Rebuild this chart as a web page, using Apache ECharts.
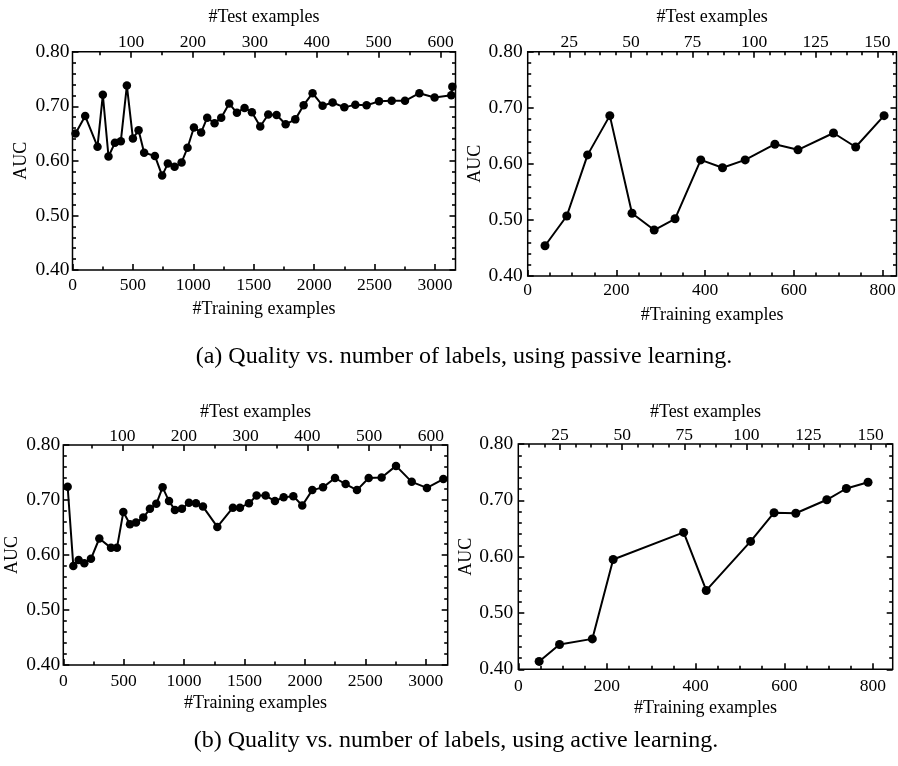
<!DOCTYPE html>
<html><head><meta charset="utf-8">
<script src="https://cdn.jsdelivr.net/npm/echarts@6/dist/echarts.min.js"></script>
<style>html,body{margin:0;padding:0;background:#fff}#c{width:898px;height:766px}</style>
</head><body><div id="c"></div>
<script>
// ---- tick values ----
const yMajor = [0.4, 0.5, 0.6, 0.7, 0.8];
const trainMajorLong = [0, 500, 1000, 1500, 2000, 2500, 3000];
const trainMinorLong = [250, 750, 1250, 1750, 2250, 2750];
const testMajorLong = [100, 200, 300, 400, 500, 600];
const testMinorLong = [50, 150, 250, 350, 450, 550];
const trainMajorShort = [0, 200, 400, 600, 800];
const trainMinorShort = [50, 100, 150, 250, 300, 350, 450, 500, 550, 650, 700, 750];
const testMajorShort = [25, 50, 75, 100, 125, 150];
const testMinorShort = [12.5, 18.75, 31.25, 37.5, 43.75, 56.25, 62.5, 68.75, 81.25, 87.5, 93.75,
  106.25, 112.5, 118.75, 131.25, 137.5, 143.75, 156.25];

// ---- data: (a) passive learning ----
const passiveTrainLeft = [25, 105, 207, 251, 298, 351, 400, 450, 500, 547, 593, 682, 742, 789, 845, 903, 952,
  1005, 1065, 1115, 1176, 1231, 1297, 1361, 1424, 1485, 1554, 1620, 1689, 1764, 1844, 1913, 1987, 2070, 2153,
  2250, 2341, 2434, 2537, 2642, 2752, 2871, 2997, 3135, 3144];
const passiveAucLeft = [0.650, 0.682, 0.626, 0.721, 0.608, 0.633, 0.636, 0.738, 0.641, 0.656, 0.615, 0.609,
  0.573, 0.595, 0.589, 0.597, 0.624, 0.661, 0.652, 0.679, 0.669, 0.679, 0.705, 0.688, 0.697, 0.689, 0.663,
  0.685, 0.684, 0.667, 0.676, 0.702, 0.724, 0.701, 0.707, 0.698, 0.703, 0.702, 0.709, 0.710, 0.710, 0.724,
  0.716, 0.720, 0.736];
const passiveTrainRight = [39, 88, 135, 185, 235, 285, 332, 390, 439, 490, 557, 609, 689, 739, 803];
const passiveAucRight = [0.454, 0.507, 0.616, 0.686, 0.512, 0.482, 0.502, 0.607, 0.593, 0.607, 0.635, 0.625,
  0.655, 0.630, 0.686];

// ---- data: (b) active learning ----
const activeTrainLeft = [36, 83, 127, 174, 229, 298, 395, 444, 497, 552, 602, 662, 717, 770, 822, 875, 924,
  982, 1040, 1098, 1156, 1275, 1404, 1462, 1537, 1600, 1675, 1752, 1824, 1904, 1978, 2061, 2150, 2249, 2337,
  2431, 2528, 2635, 2754, 2884, 3010, 3146];
const activeAucLeft = [0.724, 0.580, 0.591, 0.585, 0.593, 0.630, 0.613, 0.613, 0.678, 0.656, 0.659, 0.668,
  0.684, 0.693, 0.723, 0.698, 0.682, 0.684, 0.695, 0.694, 0.688, 0.651, 0.686, 0.686, 0.694, 0.708, 0.708,
  0.698, 0.705, 0.707, 0.690, 0.718, 0.723, 0.740, 0.729, 0.718, 0.740, 0.741, 0.762, 0.733, 0.722, 0.738];
const activeTrainRight = [47, 93, 167, 214, 373, 424, 524, 577, 626, 696, 740, 789];
const activeAucRight = [0.414, 0.444, 0.454, 0.595, 0.643, 0.540, 0.627, 0.678, 0.677, 0.701, 0.721, 0.732];

const captionA = '(a) Quality vs. number of labels, using passive learning.';
const captionB = '(b) Quality vs. number of labels, using active learning.';

const FONT = 'Liberation Serif';
const panels = [
  { rect: {left: 72.5, top: 51.7, width: 383, height: 218.3}, trainMax: 3170, testMin: 5.5, testMax: 624,
    trainMajor: trainMajorLong, trainMinor: trainMinorLong, testMajor: testMajorLong, testMinor: testMinorLong,
    x: passiveTrainLeft, y: passiveAucLeft, sym: 8.5,
    gaps: {top: 25, topLbl: 0, bot: 30, botLbl: 6, y: 42, yLbl: 3} },
  { rect: {left: 527.7, top: 51.7, width: 368.8, height: 224.3}, trainMax: 831, testMin: 8.1, testMax: 157.8,
    trainMajor: trainMajorShort, trainMinor: trainMinorShort, testMajor: testMajorShort, testMinor: testMinorShort,
    x: passiveTrainRight, y: passiveAucRight, sym: 9,
    gaps: {top: 25, topLbl: 0, bot: 30, botLbl: 5, y: 42, yLbl: 5} },
  { rect: {left: 63.3, top: 445, width: 384.4, height: 220}, trainMax: 3182, testMin: 4.4, testMax: 627.4,
    trainMajor: trainMajorLong, trainMinor: trainMinorLong, testMajor: testMajorLong, testMinor: testMinorLong,
    x: activeTrainLeft, y: activeAucLeft, sym: 8.5,
    gaps: {top: 24, topLbl: 0, bot: 29, botLbl: 7, y: 42.5, yLbl: 3} },
  { rect: {left: 518.3, top: 444, width: 374.4, height: 225.3}, trainMax: 844.6, testMin: 8.2, testMax: 158.9,
    trainMajor: trainMajorShort, trainMinor: trainMinorShort, testMajor: testMajorShort, testMinor: testMinorShort,
    x: activeTrainRight, y: activeAucRight, sym: 9,
    gaps: {top: 23, topLbl: 0, bot: 30, botLbl: 8, y: 41, yLbl: 5} }
];

const grid = [], xAxis = [], yAxis = [], series = [];
const lineStyle = {color: '#000', width: 1.6};
panels.forEach((p, i) => {
  const g = 2 * i;
  grid.push(Object.assign({show: true, borderColor: '#000', borderWidth: 1.5, backgroundColor: 'transparent',
    outerBoundsMode: 'none', containLabel: false}, p.rect));
  grid.push(Object.assign({show: false, outerBoundsMode: 'none', containLabel: false}, p.rect));
  const xBase = {type: 'value', axisLine: {show: false}, splitLine: {show: false}};
  xAxis.push(Object.assign({}, xBase, {gridIndex: g, position: 'bottom', min: 0, max: p.trainMax,
    name: '#Training examples', nameLocation: 'middle', nameGap: p.gaps.bot,
    nameTextStyle: {fontFamily: FONT, fontSize: 18, color: '#000'},
    axisTick: {show: true, inside: true, length: 6, lineStyle, customValues: p.trainMajor},
    axisLabel: {show: true, margin: p.gaps.botLbl, fontFamily: FONT, fontSize: 17.5, color: '#000',
      customValues: p.trainMajor, formatter: v => String(v)}}));
  xAxis.push(Object.assign({}, xBase, {gridIndex: g, position: 'top', min: p.testMin, max: p.testMax,
    name: '#Test examples', nameLocation: 'middle', nameGap: p.gaps.top,
    nameTextStyle: {fontFamily: FONT, fontSize: 18, color: '#000'},
    axisTick: {show: true, inside: true, length: 6, lineStyle, customValues: p.testMajor},
    axisLabel: {show: true, margin: p.gaps.topLbl, fontFamily: FONT, fontSize: 17.5, color: '#000',
      customValues: p.testMajor, formatter: v => String(v)}}));
  xAxis.push(Object.assign({}, xBase, {gridIndex: g + 1, position: 'bottom', min: 0, max: p.trainMax,
    axisTick: {show: true, inside: true, length: 3.5, lineStyle, customValues: p.trainMinor},
    axisLabel: {show: false}}));
  xAxis.push(Object.assign({}, xBase, {gridIndex: g + 1, position: 'top', min: p.testMin, max: p.testMax,
    axisTick: {show: true, inside: true, length: 3.5, lineStyle, customValues: p.testMinor},
    axisLabel: {show: false}}));
  const yBase = {type: 'value', min: 0.4, max: 0.8, interval: 0.1, axisLine: {show: false},
    splitLine: {show: false}, minorSplitLine: {show: false},
    axisTick: {show: true, inside: true, length: 6, lineStyle},
    minorTick: {show: true, splitNumber: 5, length: 3.5, lineStyle}};
  yAxis.push(Object.assign({}, yBase, {gridIndex: g, position: 'left', name: 'AUC', nameLocation: 'middle',
    nameGap: p.gaps.y, nameRotate: 90, nameTextStyle: {fontFamily: FONT, fontSize: 18, color: '#000'},
    axisLabel: {show: true, margin: p.gaps.yLbl, fontFamily: FONT, fontSize: 19.5, color: '#000',
      customValues: yMajor, formatter: v => v.toFixed(2)}}));
  yAxis.push(Object.assign({}, yBase, {gridIndex: g, position: 'right', axisLabel: {show: false}}));
  yAxis.push({type: 'value', gridIndex: g + 1, min: 0.4, max: 0.8, show: false});
  series.push({type: 'line', xAxisIndex: 4 * i, yAxisIndex: 3 * i,
    data: p.x.map((v, k) => [v, p.y[k]]),
    symbol: 'circle', symbolSize: p.sym, showSymbol: true,
    itemStyle: {color: '#000'}, lineStyle: {color: '#000', width: 2}, animation: false, silent: true});
});

const chart = echarts.init(document.getElementById('c'), null, {renderer: 'canvas'});
chart.setOption({
  animation: false,
  backgroundColor: '#fff',
  grid, xAxis, yAxis, series,
  graphic: [
    {type: 'text', x: 464, y: 357, style: {text: captionA, fill: '#000', font: '24px "Liberation Serif"',
      textAlign: 'center', textVerticalAlign: 'middle'}},
    {type: 'text', x: 456, y: 741, style: {text: captionB, fill: '#000', font: '24px "Liberation Serif"',
      textAlign: 'center', textVerticalAlign: 'middle'}}
  ]
});
</script>
</body></html>
